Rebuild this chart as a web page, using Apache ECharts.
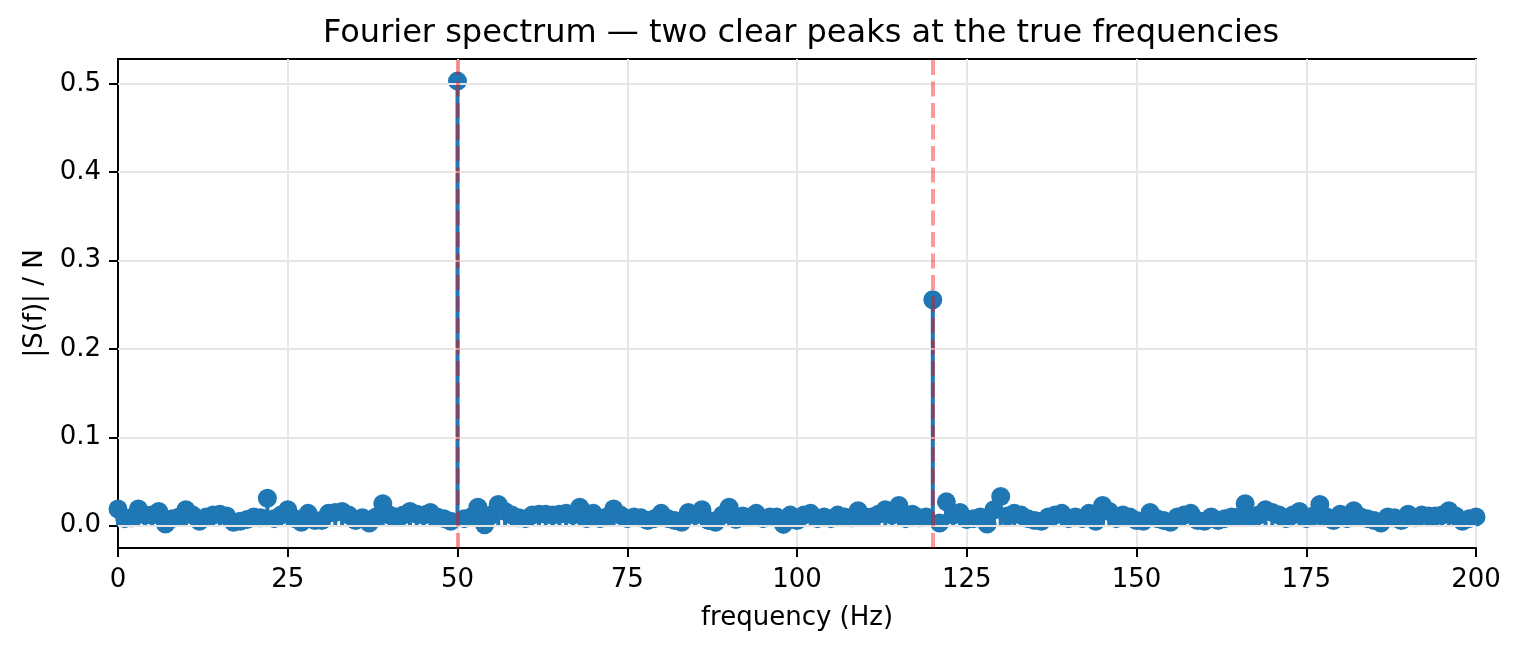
<!DOCTYPE html>
<html>
<head>
<meta charset="utf-8">
<title>Fourier spectrum</title>
<script src="https://cdn.jsdelivr.net/npm/echarts@6/dist/echarts.min.js"></script>
<style>
	html, body { margin: 0; padding: 0; background: #fff; }
	#chart { width: 1520px; height: 651px; }
</style>
</head>
<body>
<div id="chart"></div>
<script>
// |S(f)| / N, one value per 1 Hz bin from 0 to 200 Hz
var amplitude = [
	0.019, 0.008, 0.009, 0.019, 0.012, 0.012, 0.016, 0.002, 0.008, 0.010,
	0.018, 0.012, 0.005, 0.010, 0.012, 0.013, 0.011, 0.004, 0.005, 0.007,
	0.010, 0.009, 0.031, 0.008, 0.012, 0.018, 0.008, 0.004, 0.014, 0.006,
	0.006, 0.014, 0.015, 0.016, 0.012, 0.006, 0.009, 0.003, 0.010, 0.025,
	0.012, 0.010, 0.012, 0.016, 0.013, 0.012, 0.015, 0.010, 0.008, 0.005,
	0.503, 0.008, 0.010, 0.021, 0.001, 0.012, 0.024, 0.016, 0.012, 0.009,
	0.008, 0.012, 0.013, 0.013, 0.012, 0.013, 0.014, 0.012, 0.021, 0.008,
	0.014, 0.008, 0.010, 0.019, 0.012, 0.008, 0.010, 0.009, 0.006, 0.008,
	0.014, 0.008, 0.006, 0.004, 0.015, 0.012, 0.018, 0.006, 0.004, 0.012,
	0.021, 0.007, 0.011, 0.010, 0.014, 0.008, 0.010, 0.010, 0.0015, 0.012,
	0.006, 0.012, 0.014, 0.008, 0.010, 0.008, 0.012, 0.010, 0.009, 0.017,
	0.010, 0.010, 0.013, 0.018, 0.012, 0.023, 0.008, 0.013, 0.009, 0.010,
	0.2557, 0.003, 0.027, 0.012, 0.015, 0.007, 0.008, 0.010, 0.002, 0.018,
	0.033, 0.011, 0.014, 0.012, 0.008, 0.006, 0.005, 0.010, 0.012, 0.014,
	0.008, 0.010, 0.008, 0.014, 0.005, 0.023, 0.016, 0.008, 0.012, 0.010,
	0.006, 0.005, 0.015, 0.008, 0.006, 0.004, 0.010, 0.012, 0.014, 0.006,
	0.005, 0.010, 0.006, 0.008, 0.010, 0.010, 0.025, 0.010, 0.012, 0.018,
	0.015, 0.012, 0.008, 0.012, 0.016, 0.008, 0.011, 0.024, 0.010, 0.006,
	0.013, 0.008, 0.017, 0.010, 0.008, 0.006, 0.003, 0.010, 0.009, 0.006,
	0.013, 0.009, 0.012, 0.011, 0.011, 0.012, 0.017, 0.011, 0.005, 0.008,
	0.010
];
var binWidth = 1; // Hz per bin
var trueFreqs = [50, 120];
var xTicks = [0, 25, 50, 75, 100, 125, 150, 175, 200];
var yTicks = [0, 0.1, 0.2, 0.3, 0.4, 0.5];

var points = [];
for (var i = 0; i < amplitude.length; i++) {
	points.push([i * binWidth, amplitude[i]]);
}

var blue = '#1f77b4';
var font = 'DejaVu Sans';

var chart = echarts.init(document.getElementById('chart'));
var option = {
	animation: false,
	title: {
		text: 'Fourier spectrum \u2014 two clear peaks at the true frequencies',
		left: 318,
		top: 13,
		textStyle: { fontFamily: font, fontSize: 32, fontWeight: 'normal', color: '#000' }
	},
	grid: {
		left: 118, right: 44, top: 59, bottom: 103,
		show: true, borderColor: '#000', borderWidth: 2, backgroundColor: 'transparent'
	},
	xAxis: {
		type: 'value',
		min: xTicks[0],
		max: xTicks[xTicks.length - 1],
		interval: 25,
		name: 'frequency (Hz)',
		nameLocation: 'middle',
		nameGap: 57,
		nameTextStyle: { fontFamily: font, fontSize: 26, color: '#000' },
		axisLine: { show: true, onZero: false, lineStyle: { color: '#000', width: 2 } },
		axisTick: { show: true, inside: false, length: 9, lineStyle: { color: '#000', width: 2 } },
		axisLabel: { fontFamily: font, fontSize: 26, color: '#000', margin: 19 },
		splitLine: { show: true, lineStyle: { color: '#e6e6e6', width: 2 } }
	},
	yAxis: {
		type: 'value',
		min: -0.0252,
		max: 0.528,
		name: '|S(f)| / N',
		nameLocation: 'middle',
		nameGap: 70,
		nameTextStyle: { fontFamily: font, fontSize: 26, color: '#000' },
		axisLine: { show: true, onZero: false, lineStyle: { color: '#000', width: 2 } },
		axisTick: { show: true, inside: false, length: 9, customValues: yTicks, lineStyle: { color: '#000', width: 2 } },
		axisLabel: {
			fontFamily: font, fontSize: 26, color: '#000', margin: 17,
			customValues: yTicks,
			formatter: function(v) { return v.toFixed(1); }
		},
		splitLine: { show: false }
	},
	series: [{
		// horizontal grid lines at the y ticks
		type: 'line',
		z: 1,
		data: [],
		silent: true,
		markLine: {
			silent: true,
			symbol: 'none',
			label: { show: false },
			lineStyle: { color: '#e6e6e6', width: 2, type: 'solid' },
			data: yTicks.map(function(v) { return { yAxis: v }; })
		}
	},
	{
		// stems
		type: 'bar',
		z: 2,
		barWidth: 4,
		itemStyle: { color: blue },
		data: points
	},
	{
		// stem heads
		type: 'scatter',
		z: 3,
		symbol: 'circle',
		symbolSize: 19,
		itemStyle: { color: blue, opacity: 1 },
		data: points
	},
	{
		// true frequencies
		type: 'line',
		z: 4,
		data: [],
		silent: true,
		markLine: {
			silent: true,
			symbol: 'none',
			label: { show: false },
			lineStyle: { color: 'rgba(255, 0, 0, 0.4)', width: 4, type: [15, 6.5] },
			data: trueFreqs.map(function(f) { return { xAxis: f }; })
		}
	}]
};
chart.setOption(option);
</script>
</body>
</html>
